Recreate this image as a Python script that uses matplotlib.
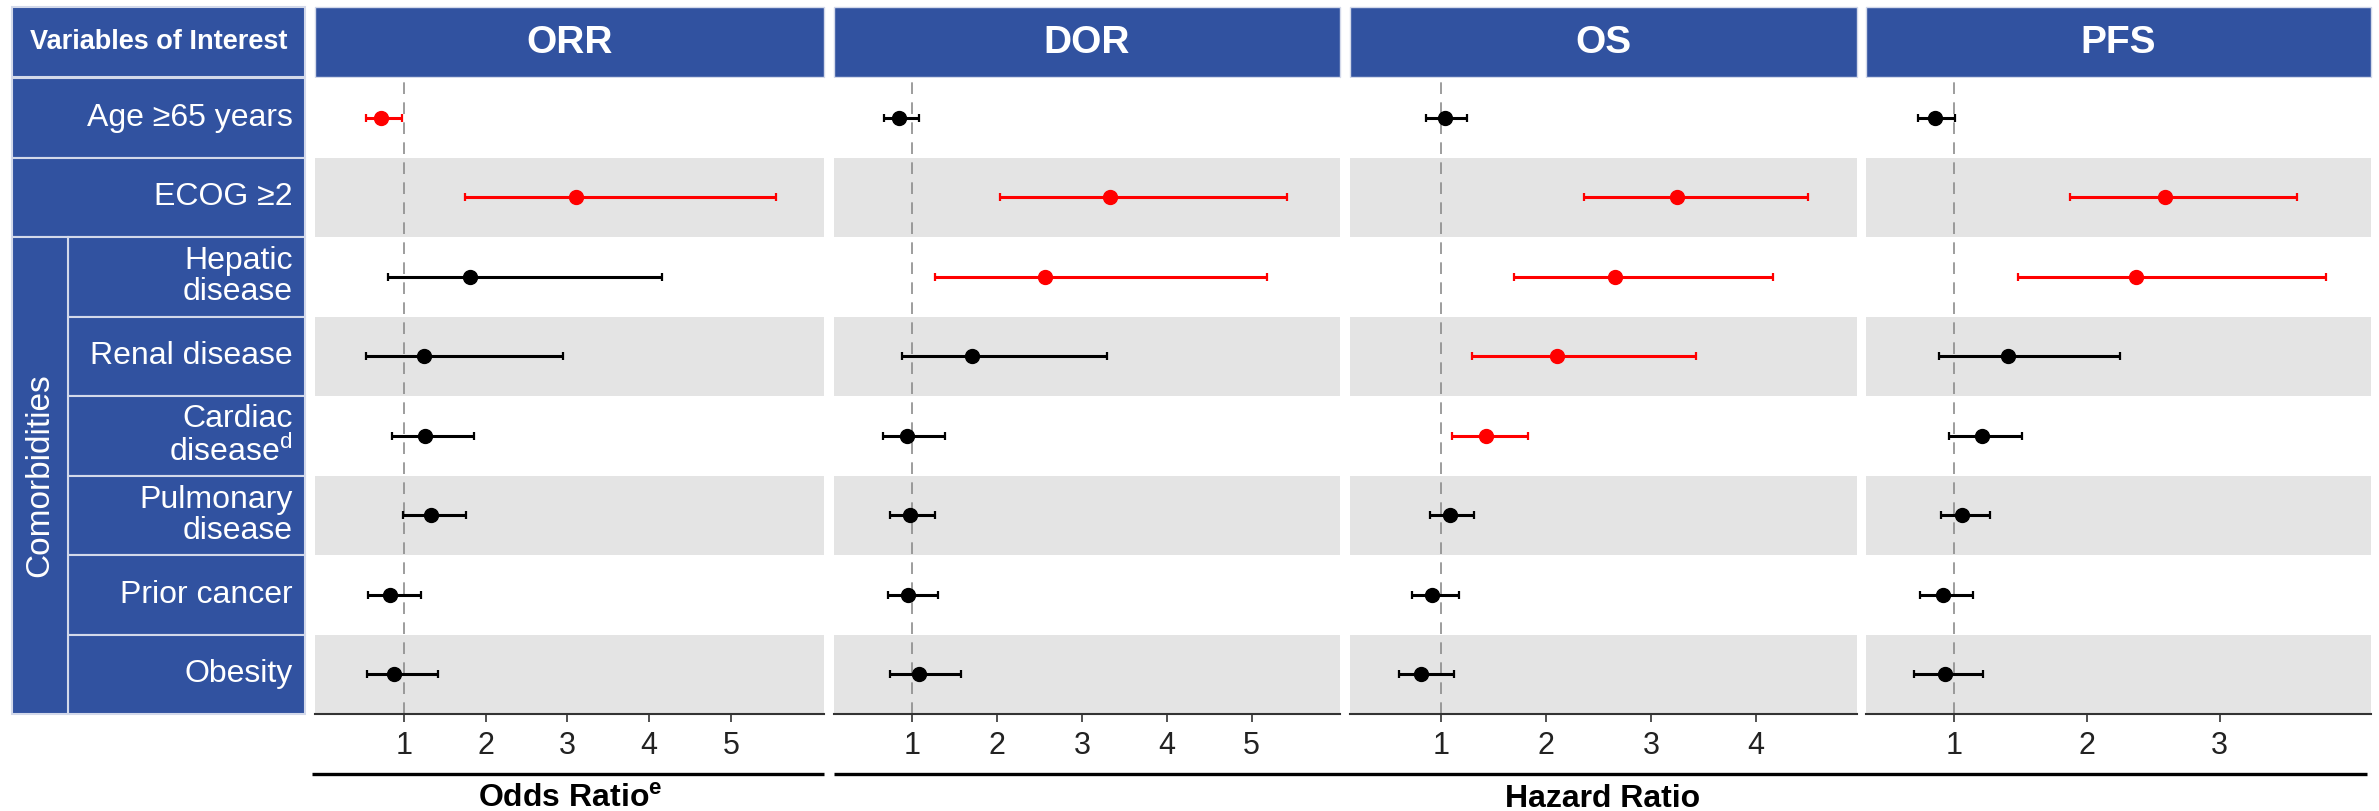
import numpy as np
import matplotlib
matplotlib.use("Agg")
import matplotlib.pyplot as plt
from matplotlib.patches import Rectangle

plt.rcParams["font.family"] = ["Liberation Sans", "DejaVu Sans"]
plt.rcParams["mathtext.fontset"] = "custom"
plt.rcParams["mathtext.rm"] = "Liberation Sans"
plt.rcParams["mathtext.bf"] = "Liberation Sans:bold"

# Data
variables = ["Age ≥65 years", "ECOG ≥2", "Hepatic\ndisease", "Renal disease",
             "Cardiac\ndisease$^{\\mathrm{d}}$", "Pulmonary\ndisease",
             "Prior cancer", "Obesity"]
outcomes = ["ORR", "DOR", "OS", "PFS"]

orr_est = [0.72, 3.11, 1.81, 1.25, 1.26, 1.33, 0.83, 0.88]
orr_lo = [0.53, 1.75, 0.80, 0.53, 0.85, 0.99, 0.56, 0.55]
orr_hi = [0.97, 5.55, 4.16, 2.95, 1.86, 1.76, 1.21, 1.41]

dor_est = [0.85, 3.33, 2.57, 1.70, 0.94, 0.97, 0.95, 1.08]
dor_lo = [0.67, 2.04, 1.27, 0.88, 0.66, 0.74, 0.72, 0.74]
dor_hi = [1.08, 5.42, 5.18, 3.30, 1.39, 1.27, 1.30, 1.58]

os_est = [1.04, 3.25, 2.66, 2.11, 1.43, 1.09, 0.92, 0.81]
os_lo = [0.86, 2.36, 1.70, 1.30, 1.11, 0.90, 0.73, 0.60]
os_hi = [1.25, 4.49, 4.16, 3.43, 1.83, 1.32, 1.17, 1.13]

pfs_est = [0.86, 2.59, 2.37, 1.41, 1.21, 1.06, 0.92, 0.93]
pfs_lo = [0.73, 1.87, 1.48, 0.89, 0.96, 0.90, 0.74, 0.70]
pfs_hi = [1.01, 3.58, 3.80, 2.25, 1.51, 1.27, 1.14, 1.22]

ticks = [[1, 2, 3, 4, 5], [1, 2, 3, 4, 5], [1, 2, 3, 4], [1, 2, 3]]
xlims = [(-0.09, 6.14), (0.08, 6.04), (0.136, 4.96), (0.337, 4.14)]
series = [(orr_est, orr_lo, orr_hi), (dor_est, dor_lo, dor_hi),
          (os_est, os_lo, os_hi), (pfs_est, pfs_lo, pfs_hi)]

# Layout in pixels
W, H = 2379, 811
BLUE = "#3152a0"
EDGE = "#d3d9ea"
GREY = "#e4e4e4"
panel_x = [(315, 824), (834, 1340), (1350, 1857), (1866, 2371)]
head_top, head_bot = 7, 77
rows_top, rows_bot = 78, 714
n = len(variables)
rh = (rows_bot - rows_top) / n


def px_rect(x0, y0, x1, y1):
    return [x0 / W, 1 - y1 / H, (x1 - x0) / W, (y1 - y0) / H]


fig = plt.figure(figsize=(W / 100, H / 100), dpi=100)

# Background canvas in pixel coordinates for the table-like decorations
canvas = fig.add_axes([0, 0, 1, 1], zorder=0)
canvas.set_xlim(0, W)
canvas.set_ylim(H, 0)
canvas.axis("off")

# Left label panel
canvas.add_patch(Rectangle((12, head_top), 305 - 12, head_bot - head_top,
                           facecolor=BLUE, edgecolor=EDGE, lw=1.5))
canvas.text(158.5, (head_top + head_bot) / 2, "Variables of Interest",
            ha="center", va="center", color="white", fontsize=19.5,
            fontweight="bold")

for i, label in enumerate(variables):
    y0 = rows_top + i * rh
    x0 = 12 if i < 2 else 68
    canvas.add_patch(Rectangle((x0, y0), 305 - x0, rh,
                               facecolor=BLUE, edgecolor=EDGE, lw=1.5))
    canvas.text(293, y0 + rh / 2, label, ha="right", va="center",
                color="white", fontsize=23, linespacing=1.05)

canvas.add_patch(Rectangle((12, rows_top + 2 * rh), 68 - 12, 6 * rh,
                           facecolor=BLUE, edgecolor=EDGE, lw=1.5))
canvas.text(40, rows_top + 5 * rh, "Comorbidities", rotation=90,
            ha="center", va="center", color="white", fontsize=24)

# Panel headers
for (x0, x1), name in zip(panel_x, outcomes):
    canvas.add_patch(Rectangle((x0, head_top), x1 - x0, head_bot - head_top,
                               facecolor=BLUE, edgecolor=EDGE, lw=1.0))
    canvas.text((x0 + x1) / 2, (head_top + head_bot) / 2 + 1, name,
                ha="center", va="center", color="white", fontsize=28,
                fontweight="bold")

# Bottom rules and axis titles
canvas.plot([312, 824], [774, 774], color="black", lw=2.4, solid_capstyle="butt")
canvas.plot([834, 2367], [774, 774], color="black", lw=2.4, solid_capstyle="butt")
canvas.text(570, 807, "Odds Ratio$^{\\mathbf{e}}$", ha="center", va="baseline",
            fontsize=23, fontweight="bold")
canvas.text(1603, 807, "Hazard Ratio", ha="center", va="baseline",
            fontsize=23, fontweight="bold")

# Forest panels
ypos = np.arange(n)
for (x0, x1), (est, lo, hi), tk, lim in zip(panel_x, series, ticks, xlims):
    ax = fig.add_axes(px_rect(x0, rows_top, x1, rows_bot), zorder=1)
    ax.set_xlim(lim)
    ax.set_ylim(n - 0.5, -0.5)
    for i in range(1, n, 2):
        ax.axhspan(i - 0.5, i + 0.5, color=GREY, lw=0, zorder=0)
    ax.axvline(1, color="#8c8c8c", lw=1.2, ls=(0, (7, 5)), zorder=1)

    est = np.array(est)
    lo = np.array(lo)
    hi = np.array(hi)
    sig = (lo > 1) | (hi < 1)
    for mask, col in [(~sig, "black"), (sig, "#ff0000")]:
        ax.errorbar(est[mask], ypos[mask],
                    xerr=[est[mask] - lo[mask], hi[mask] - est[mask]],
                    fmt="o", color=col, ms=10, elinewidth=2.2,
                    capsize=2.6, capthick=1.6, zorder=3)

    ax.set_xticks(tk)
    ax.set_yticks([])
    for s in ["top", "left", "right"]:
        ax.spines[s].set_visible(False)
    ax.spines["bottom"].set_color("#333333")
    ax.spines["bottom"].set_linewidth(1.5)
    ax.tick_params(axis="x", direction="out", length=6, width=1.2,
                   color="#333333", labelsize=22, labelcolor="#222222", pad=6)

fig.savefig("out.png", dpi=100)
